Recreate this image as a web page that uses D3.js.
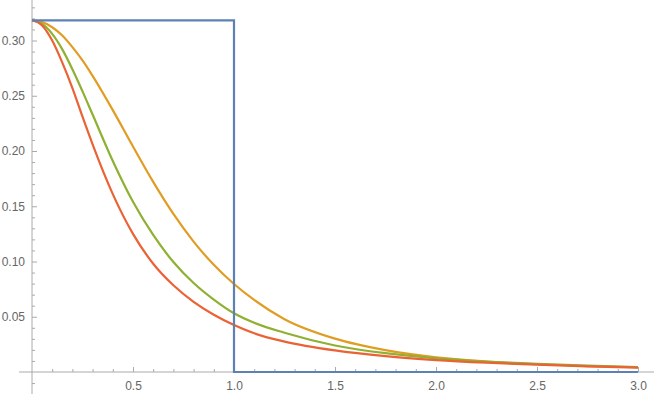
<!DOCTYPE html>
<html>
<head>
<meta charset="utf-8">
<script src="https://cdn.jsdelivr.net/npm/d3@7"></script>
<style>
  body { margin: 0; background: #fff; }
  svg text { font-family: "Liberation Sans", Arial, sans-serif; font-size: 12px; fill: #666; }
  .axis line { stroke: #aaa; }
</style>
</head>
<body>
<div id="chart"></div>
<script>
// valori
const xs     = [0, 0.05, 0.1, 0.15, 0.2, 0.25, 0.3, 0.4, 0.5, 0.6, 0.7, 0.8, 0.9, 1.0, 1.1, 1.25, 1.5, 1.75, 2.0, 2.25, 2.5, 2.75, 3.0];
const orange = [0.3183, 0.3167, 0.312, 0.3045, 0.294, 0.282, 0.268, 0.237, 0.204, 0.172, 0.143, 0.118, 0.097, 0.0796, 0.0652, 0.0478, 0.0302, 0.0198, 0.0132, 0.0095, 0.0070, 0.0054, 0.0043];
const green  = [0.3183, 0.315, 0.306, 0.292, 0.274, 0.254, 0.233, 0.191, 0.154, 0.124, 0.0995, 0.0805, 0.0655, 0.0531, 0.0445, 0.0355, 0.0240, 0.0170, 0.0124, 0.0094, 0.0073, 0.0057, 0.0045];
const red    = [0.3183, 0.3136, 0.300, 0.280, 0.257, 0.231, 0.206, 0.161, 0.125, 0.098, 0.0785, 0.0635, 0.0518, 0.0425, 0.0350, 0.0275, 0.0195, 0.0143, 0.0108, 0.0084, 0.0066, 0.0051, 0.0039];
// funzione a gradino
const stepX = [0, 1, 1, 3];
const stepY = [0.3183, 0.3183, 0, 0];

const xMajor = [0.5, 1.0, 1.5, 2.0, 2.5, 3.0];
const yMajor = [0.05, 0.10, 0.15, 0.20, 0.25, 0.30];

const W = 654, H = 394;
const svg = d3.select('#chart').append('svg')
    .attr('width', W)
    .attr('height', H);

const x = d3.scaleLinear().domain([0, 3]).range([32, 638]);
const y = d3.scaleLinear().domain([0, 0.32]).range([372, 372 - 0.32 * 1105]);

// minor ticks
const xMinor = d3.range(1, 31).map(i => i / 10).filter(v => Math.abs(v * 2 - Math.round(v * 2)) > 1e-6);
const yMinor = d3.range(-2, 34).map(i => i / 100).filter(v => Math.abs(v * 20 - Math.round(v * 20)) > 1e-6);

// assi: linee
svg.append('line')
    .attr('x1', x(-0.064)).attr('x2', W)
    .attr('y1', y(0)).attr('y2', y(0))
    .attr('stroke', '#aaa');
svg.append('line')
    .attr('x1', x(0)).attr('x2', x(0))
    .attr('y1', 0).attr('y2', H)
    .attr('stroke', '#aaa');

svg.append('g')
    .attr('class', 'axis')
    .attr('transform', `translate(0,${y(0)})`)
    .call(d3.axisBottom(x).tickValues(xMinor).tickSizeInner(-3).tickSizeOuter(0).tickFormat(''))
    .call(g => g.select('.domain').remove());

svg.append('g')
    .attr('class', 'axis')
    .attr('transform', `translate(0,${y(0)})`)
    .call(d3.axisBottom(x).tickValues(xMajor).tickSizeInner(-5).tickSizeOuter(0).tickPadding(9).tickFormat(d3.format('.1f')))
    .call(g => g.select('.domain').remove());

svg.append('g')
    .attr('class', 'axis')
    .attr('transform', `translate(${x(0)},0)`)
    .call(d3.axisLeft(y).tickValues(yMinor).tickSizeInner(-3).tickSizeOuter(0).tickFormat(''))
    .call(g => g.select('.domain').remove());

svg.append('g')
    .attr('class', 'axis')
    .attr('transform', `translate(${x(0)},0)`)
    .call(d3.axisLeft(y).tickValues(yMajor).tickSizeInner(-5).tickSizeOuter(0).tickPadding(7).tickFormat(d3.format('.2f')))
    .call(g => g.select('.domain').remove());

svg.selectAll('.axis text').attr('fill', '#666').attr('font-size', '12px');

// curve
const line = d3.line()
    .x(d => x(d[0]))
    .y(d => y(d[1]))
    .curve(d3.curveMonotoneX);

const series = [
    { values: orange, color: '#E19C24' },
    { values: green,  color: '#8FB032' },
    { values: red,    color: '#EB6235' }
];

series.forEach(s => {
    svg.append('path')
        .datum(xs.map((v, i) => [v, s.values[i]]))
        .attr('fill', 'none')
        .attr('stroke', s.color)
        .attr('stroke-width', 2.2)
        .attr('d', line);
});

const stepLine = d3.line()
    .x(d => x(d[0]))
    .y(d => y(d[1]));

svg.append('path')
    .datum(stepX.map((v, i) => [v, stepY[i]]))
    .attr('fill', 'none')
    .attr('stroke', '#5E81B5')
    .attr('stroke-width', 2.2)
    .attr('stroke-linejoin', 'miter')
    .attr('d', stepLine);
</script>
</body>
</html>
